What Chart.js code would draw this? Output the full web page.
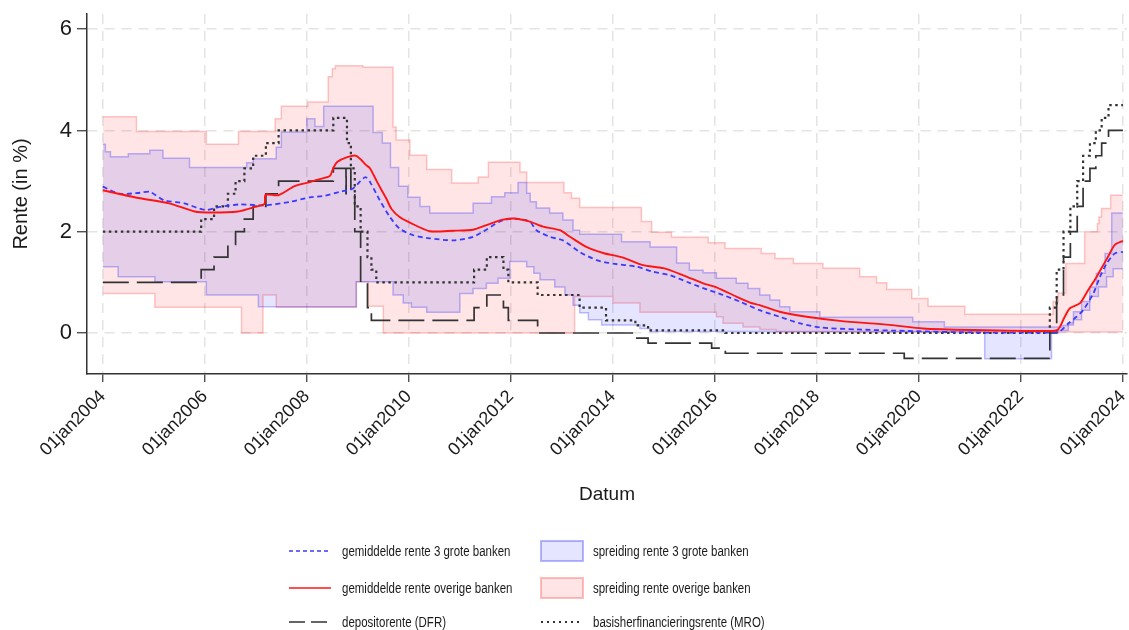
<!DOCTYPE html>
<html>
<head>
<meta charset="utf-8">
<script src="https://cdn.jsdelivr.net/npm/chart.js@4/dist/chart.umd.min.js"></script>
<style>
  body { margin: 0; background: #fff; }
  #wrap { position: relative; width: 1129px; height: 630px; }
  #chart-box { position: absolute; left: 0; top: 0; width: 1129px; height: 630px; }
  .legend-text { position: absolute; font-family: "Liberation Sans", Arial, sans-serif;
                 font-size: 14px; color: #1a1a1a; line-height: 22px; white-space: nowrap;
                 transform: scaleX(0.82); transform-origin: 0 50%; }
  .legend-sample { position: absolute; }
</style>
</head>
<body>
<div id="wrap">
  <div id="chart-box"><canvas id="rente-chart"></canvas></div>
  <div id="legend"></div>
</div>
<script>
// tick labels
const yearTicks = [2004, 2006, 2008, 2010, 2012, 2014, 2016, 2018, 2020, 2022, 2024];
const rateTicks = [0, 2, 4, 6];

// depositorente (DFR), change dates and new level
const dfrDates = ['2004-01-01', '2005-12-06', '2006-03-08', '2006-06-15', '2006-08-09', '2006-10-11', '2006-12-13',
  '2007-03-14', '2007-06-13', '2008-07-09', '2008-10-08', '2008-10-09', '2008-11-12', '2008-12-10', '2009-01-21',
  '2009-03-11', '2009-04-08', '2011-04-13', '2011-07-13', '2011-11-09', '2011-12-14', '2012-07-11', '2014-06-11',
  '2014-09-10', '2015-12-09', '2016-03-16', '2019-09-18', '2022-07-27', '2022-09-14', '2022-11-02', '2022-12-21',
  '2023-02-08', '2023-03-22', '2023-05-10', '2023-06-21', '2023-08-02', '2023-09-20', '2024-01-01'];
const dfrValues = [1.00, 1.25, 1.50, 1.75, 2.00, 2.25, 2.50,
  2.75, 3.00, 3.25, 2.75, 3.25, 2.75, 2.00, 1.00,
  0.50, 0.25, 0.50, 0.75, 0.50, 0.25, 0.00, -0.10,
  -0.20, -0.30, -0.40, -0.50, 0.00, 0.75, 1.50, 2.00,
  2.50, 3.00, 3.25, 3.50, 3.75, 4.00, 4.00];

// basisherfinancieringsrente (MRO)
const mroDates = ['2004-01-01', '2005-12-06', '2006-03-08', '2006-06-15', '2006-08-09', '2006-10-11', '2006-12-13',
  '2007-03-14', '2007-06-13', '2008-07-09', '2008-10-15', '2008-11-12', '2008-12-10', '2009-01-21', '2009-03-11',
  '2009-04-08', '2009-05-13', '2011-04-13', '2011-07-13', '2011-11-09', '2011-12-14', '2012-07-11', '2013-05-08',
  '2013-11-13', '2014-06-11', '2014-09-10', '2016-03-16', '2022-07-27', '2022-09-14', '2022-11-02', '2022-12-21',
  '2023-02-08', '2023-03-22', '2023-05-10', '2023-06-21', '2023-08-02', '2023-09-20', '2024-01-01'];
const mroValues = [2.00, 2.25, 2.50, 2.75, 3.00, 3.25, 3.50,
  3.75, 4.00, 4.25, 3.75, 3.25, 2.50, 2.00, 1.50,
  1.25, 1.00, 1.25, 1.50, 1.25, 1.00, 0.75, 0.50,
  0.25, 0.15, 0.05, 0.00, 0.50, 1.25, 2.00, 2.50,
  3.00, 3.50, 3.75, 4.00, 4.25, 4.50, 4.50];

// gemiddelde rente 3 grote banken (years as decimals)
const bigMeanYears = [2004.00, 2004.33, 2004.73, 2004.92, 2005.20, 2005.60, 2006.00, 2006.30, 2006.69, 2007.18,
  2007.67, 2008.06, 2008.35, 2008.65, 2008.90, 2009.05, 2009.15, 2009.24, 2009.43, 2009.63, 2009.82, 2010.09,
  2010.41, 2010.87, 2011.26, 2011.52, 2011.78, 2012.05, 2012.37, 2012.50, 2012.76, 2013.02, 2013.35, 2013.68,
  2014.00, 2014.46, 2014.79, 2015.12, 2015.50, 2015.84, 2016.16, 2016.49, 2016.88, 2017.27, 2017.67, 2018.06,
  2018.78, 2019.76, 2021.06, 2022.57, 2022.76, 2022.93, 2023.09, 2023.22, 2023.42, 2023.55, 2023.68, 2023.84, 2024.00];
const bigMeanValues = [2.89, 2.75, 2.77, 2.79, 2.62, 2.56, 2.43, 2.49, 2.54, 2.52,
  2.59, 2.68, 2.71, 2.79, 2.85, 3.00, 3.08, 2.98, 2.62, 2.29, 2.06, 1.93,
  1.87, 1.83, 1.90, 2.04, 2.20, 2.26, 2.20, 2.03, 1.90, 1.83, 1.60, 1.44,
  1.37, 1.31, 1.21, 1.14, 0.99, 0.86, 0.75, 0.62, 0.45, 0.32, 0.19, 0.11,
  0.07, 0.04, 0.01, 0.01, 0.03, 0.19, 0.32, 0.45, 0.78, 1.11, 1.37, 1.57, 1.60];

// gemiddelde rente overige banken
const otherMeanYears = [2004.00, 2004.35, 2004.73, 2005.30, 2005.80, 2006.13, 2006.65, 2006.98, 2007.17, 2007.19,
  2007.44, 2007.76, 2008.06, 2008.25, 2008.45, 2008.52, 2008.60, 2008.78, 2008.97, 2009.17, 2009.24, 2009.37,
  2009.45, 2009.56, 2009.66, 2009.82, 2010.02, 2010.41, 2010.87, 2011.26, 2011.52, 2011.80, 2012.05, 2012.37,
  2012.63, 2012.96, 2013.16, 2013.48, 2013.81, 2014.20, 2014.59, 2014.99, 2015.38, 2015.77, 2016.03, 2016.42,
  2016.69, 2016.88, 2017.27, 2017.80, 2018.45, 2019.43, 2020.08, 2021.06, 2022.57, 2022.73, 2022.86, 2022.96,
  2023.16, 2023.32, 2023.45, 2023.58, 2023.71, 2023.84, 2024.00];
const otherMeanValues = [2.82, 2.74, 2.66, 2.56, 2.40, 2.38, 2.40, 2.49, 2.55, 2.73,
  2.72, 2.90, 2.98, 3.04, 3.10, 3.26, 3.38, 3.47, 3.50, 3.31, 3.25, 3.00,
  2.85, 2.65, 2.45, 2.29, 2.18, 2.01, 2.02, 2.04, 2.13, 2.23, 2.26, 2.20,
  2.10, 2.03, 1.90, 1.70, 1.58, 1.49, 1.34, 1.28, 1.14, 0.98, 0.90, 0.72,
  0.60, 0.55, 0.42, 0.32, 0.24, 0.16, 0.09, 0.06, 0.04, 0.07, 0.32, 0.49,
  0.59, 0.85, 1.05, 1.28, 1.51, 1.74, 1.82];

// spreiding rente 3 grote banken: bovengrens en ondergrens (stappen)
const bigHighYears = [2004.00, 2004.05, 2004.15, 2004.50, 2004.92, 2005.18, 2005.70, 2006.82, 2006.95, 2007.40,
  2007.50, 2008.00, 2008.16, 2008.33, 2009.30, 2009.48, 2009.64, 2009.80, 2009.98, 2010.22, 2010.41, 2011.26,
  2011.62, 2011.88, 2012.14, 2012.31, 2012.38, 2012.50, 2012.76, 2013.02, 2013.22, 2013.35, 2014.17, 2014.73,
  2015.25, 2015.50, 2015.77, 2016.03, 2016.42, 2016.65, 2016.88, 2017.08, 2017.27, 2017.47, 2018.06, 2019.88,
  2020.50, 2022.60, 2022.80, 2022.93, 2023.03, 2023.19, 2023.35, 2023.48, 2023.65, 2023.78, 2024.00];
const bigHighValues = [3.73, 3.58, 3.48, 3.54, 3.61, 3.45, 3.27, 3.36, 3.44, 3.67,
  3.97, 4.23, 4.08, 4.48, 3.96, 3.75, 3.27, 2.90, 2.68, 2.50, 2.37, 2.56,
  2.69, 2.77, 2.97, 2.76, 2.59, 2.47, 2.37, 2.23, 2.03, 1.95, 1.80, 1.70,
  1.38, 1.24, 1.19, 1.08, 0.98, 0.88, 0.75, 0.65, 0.52, 0.42, 0.31, 0.22,
  0.12, 0.12, 0.15, 0.20, 0.42, 0.62, 0.91, 1.18, 1.57, 2.37, 2.37];
const bigLowYears = [2004.00, 2004.30, 2005.02, 2006.03, 2007.05, 2008.97, 2009.69, 2009.89, 2010.05, 2010.35,
  2011.00, 2011.26, 2011.52, 2011.75, 2011.98, 2012.31, 2012.45, 2012.57, 2012.86, 2013.06, 2013.22, 2013.35,
  2013.52, 2013.78, 2014.53, 2014.73, 2021.29, 2022.60, 2022.73, 2022.93, 2023.03, 2023.19, 2023.35, 2023.52,
  2023.68, 2023.81, 2024.00];
const bigLowValues = [1.31, 1.11, 1.01, 0.75, 0.52, 1.01, 0.75, 0.59, 0.51, 0.41,
  0.78, 0.88, 0.98, 1.08, 1.41, 1.31, 1.18, 1.05, 0.91, 0.75, 0.55, 0.40,
  0.26, 0.16, 0.09, 0.03, -0.51, 0.00, 0.05, 0.16, 0.26, 0.45, 0.72, 0.91,
  1.11, 1.27, 1.27];

// spreiding rente overige banken
const otherHighYears = [2004.00, 2004.66, 2006.03, 2006.66, 2007.38, 2007.50, 2008.02, 2008.42, 2008.50, 2008.56,
  2009.10, 2009.69, 2009.75, 2010.02, 2010.35, 2010.84, 2011.36, 2011.56, 2012.18, 2012.31, 2013.04, 2013.19,
  2013.35, 2014.56, 2014.76, 2015.15, 2015.87, 2016.20, 2016.91, 2017.18, 2017.54, 2018.12, 2018.84, 2019.17,
  2019.37, 2019.86, 2020.18, 2020.90, 2022.63, 2022.73, 2022.88, 2023.25, 2023.50, 2023.53, 2023.58, 2023.76, 2024.00];
const otherHighValues = [4.27, 3.98, 3.73, 3.98, 4.23, 4.48, 4.56, 5.06, 5.22, 5.28,
  5.25, 4.07, 3.81, 3.51, 3.23, 2.96, 3.08, 3.37, 3.18, 2.97, 2.77, 2.66,
  2.48, 2.20, 1.99, 1.89, 1.78, 1.67, 1.57, 1.47, 1.37, 1.28, 1.11, 0.99,
  0.86, 0.68, 0.53, 0.37, 0.62, 0.79, 1.37, 2.00, 2.16, 2.29, 2.46, 2.72, 2.72];
const otherLowYears = [2004.00, 2005.02, 2006.72, 2007.14, 2007.40, 2008.97, 2009.20, 2009.50, 2013.25, 2014.00,
  2014.53, 2016.03, 2016.16, 2016.55, 2016.88, 2017.20, 2024.00];
const otherLowValues = [0.78, 0.51, 0.00, 0.75, 0.51, 1.01, 0.53, 0.00, 0.72, 0.59,
  0.41, 0.32, 0.19, 0.12, 0.07, 0.02, 0.02];

function toYear(dateStr) {
    const d = new Date(dateStr + 'T00:00:00Z');
    const start = Date.UTC(d.getUTCFullYear(), 0, 1);
    const end = Date.UTC(d.getUTCFullYear() + 1, 0, 1);
    return d.getUTCFullYear() + (d.getTime() - start) / (end - start);
}

function toPoints(xs, ys) {
    return xs.map((x, i) => ({ x: x, y: ys[i] }));
}

const BLUE_LINE = '#3a3aff';
const RED_LINE = '#ff1414';
const DARK = '#333333';

const legendItems = [
    { label: 'gemiddelde rente 3 grote banken', kind: 'line', color: BLUE_LINE, dash: [4, 3], width: 1.6 },
    { label: 'spreiding rente 3 grote banken', kind: 'box', fill: 'rgba(0,0,255,0.10)', stroke: 'rgba(0,0,255,0.28)' },
    { label: 'gemiddelde rente overige banken', kind: 'line', color: RED_LINE, dash: [], width: 1.6 },
    { label: 'spreiding rente overige banken', kind: 'box', fill: 'rgba(255,0,0,0.10)', stroke: 'rgba(255,0,0,0.25)' },
    { label: 'depositorente (DFR)', kind: 'line', color: DARK, dash: [16, 6], width: 1.6 },
    { label: 'basisherfinancieringsrente (MRO)', kind: 'line', color: DARK, dash: [2, 4], width: 1.8 }
];

document.addEventListener('DOMContentLoaded', function () {
    createRenteChart();
    buildLegend();
});

function createRenteChart() {
    const ctx = document.getElementById('rente-chart').getContext('2d');
    const tickFont = { family: '"Liberation Sans", Arial, sans-serif' };

    new Chart(ctx, {
        type: 'line',
        data: {
            datasets: [
                {
                    label: 'gemiddelde rente 3 grote banken',
                    data: toPoints(bigMeanYears, bigMeanValues),
                    borderColor: BLUE_LINE, borderWidth: 1.8, borderDash: [5, 3.5],
                    pointRadius: 0, tension: 0.25, fill: false, order: 2
                },
                {
                    label: 'gemiddelde rente overige banken',
                    data: toPoints(otherMeanYears, otherMeanValues),
                    borderColor: RED_LINE, borderWidth: 1.9,
                    pointRadius: 0, tension: 0.25, fill: false, order: 1
                },
                {
                    label: 'depositorente (DFR)',
                    data: toPoints(dfrDates.map(toYear), dfrValues),
                    borderColor: DARK, borderWidth: 1.7, borderDash: [26, 8],
                    stepped: true, pointRadius: 0, fill: false, order: 3
                },
                {
                    label: 'basisherfinancieringsrente (MRO)',
                    data: toPoints(mroDates.map(toYear), mroValues),
                    borderColor: DARK, borderWidth: 2.2, borderDash: [2.5, 3.5],
                    stepped: true, pointRadius: 0, fill: false, order: 4
                },
                {
                    label: 'spreiding rente 3 grote banken',
                    data: toPoints(bigHighYears, bigHighValues),
                    borderColor: 'rgba(0,0,255,0.25)', borderWidth: 1.5,
                    backgroundColor: 'rgba(0,0,255,0.10)',
                    stepped: true, pointRadius: 0, fill: '+1', order: 10
                },
                {
                    label: 'ondergrens 3 grote banken',
                    data: toPoints(bigLowYears, bigLowValues),
                    borderColor: 'rgba(0,0,255,0.25)', borderWidth: 1.5,
                    stepped: true, pointRadius: 0, fill: false, order: 10
                },
                {
                    label: 'spreiding rente overige banken',
                    data: toPoints(otherHighYears, otherHighValues),
                    borderColor: 'rgba(255,0,0,0.22)', borderWidth: 1.5,
                    backgroundColor: 'rgba(255,0,0,0.10)',
                    stepped: true, pointRadius: 0, fill: '+1', order: 11
                },
                {
                    label: 'ondergrens overige banken',
                    data: toPoints(otherLowYears, otherLowValues),
                    borderColor: 'rgba(255,0,0,0.22)', borderWidth: 1.5,
                    stepped: true, pointRadius: 0, fill: false, order: 11
                }
            ]
        },
        options: {
            responsive: true,
            maintainAspectRatio: false,
            animation: false,
            layout: { padding: { left: 0, right: 2, top: 14, bottom: 120 } },
            plugins: {
                legend: { display: false },
                tooltip: { enabled: false }
            },
            scales: {
                x: {
                    type: 'linear',
                    min: 2003.69,
                    max: 2024.08,
                    afterBuildTicks: function (scale) {
                        scale.ticks = yearTicks.map(v => ({ value: v }));
                    },
                    afterFit: function (scale) {
                        scale.height = 136;
                        scale.paddingLeft = 0;
                        scale.paddingRight = 0;
                    },
                    ticks: {
                        minRotation: 45, maxRotation: 45, padding: 4,
                        color: '#1a1a1a',
                        font: Object.assign({ size: 18 }, tickFont),
                        callback: function (value) { return '01jan' + value; }
                    },
                    grid: {
                        color: '#e4e4e4', lineWidth: 1.5, tickLength: 8,
                        tickColor: DARK, tickWidth: 1.2, tickBorderDash: []
                    },
                    border: { display: true, color: DARK, width: 1.5, dash: [10, 7] },
                    title: {
                        display: true, text: 'Datum', color: '#1a1a1a',
                        font: Object.assign({ size: 19 }, tickFont),
                        padding: { top: 4, bottom: 4 }
                    }
                },
                y: {
                    min: -0.81,
                    max: 6.3,
                    afterBuildTicks: function (scale) {
                        scale.ticks = rateTicks.map(v => ({ value: v }));
                    },
                    afterFit: function (scale) {
                        scale.width = 87;
                        scale.paddingTop = 0;
                        scale.paddingBottom = 0;
                    },
                    ticks: {
                        padding: 5, color: '#1a1a1a',
                        font: Object.assign({ size: 22 }, tickFont)
                    },
                    grid: {
                        color: '#e4e4e4', lineWidth: 1.5, tickLength: 10,
                        tickColor: DARK, tickWidth: 1.2, tickBorderDash: []
                    },
                    border: { display: true, color: DARK, width: 1.5, dash: [10, 7] },
                    title: {
                        display: true, text: 'Rente (in %)', color: '#1a1a1a',
                        font: Object.assign({ size: 20 }, tickFont),
                        padding: { top: 9, bottom: 0 }
                    }
                }
            }
        }
    });
}

function buildLegend() {
    const legend = document.getElementById('legend');
    const rowCenters = [551, 588, 622];
    const sampleLeft = [288, 540];
    const textLeft = [342, 593];

    legendItems.forEach(function (item, i) {
        const row = Math.floor(i / 2);
        const col = i % 2;

        const sample = document.createElement('canvas');
        sample.width = 44;
        sample.height = 24;
        sample.className = 'legend-sample';
        sample.style.left = sampleLeft[col] + 'px';
        sample.style.top = (rowCenters[row] - 12) + 'px';
        const c = sample.getContext('2d');
        if (item.kind === 'box') {
            c.fillStyle = item.fill;
            c.fillRect(1, 2, 42, 20);
            c.strokeStyle = item.stroke;
            c.lineWidth = 2;
            c.strokeRect(1, 2, 42, 20);
        } else {
            c.strokeStyle = item.color;
            c.lineWidth = item.width;
            c.setLineDash(item.dash);
            c.beginPath();
            c.moveTo(1, 12);
            c.lineTo(43, 12);
            c.stroke();
        }

        const text = document.createElement('span');
        text.className = 'legend-text';
        text.textContent = item.label;
        text.style.left = textLeft[col] + 'px';
        text.style.top = (rowCenters[row] - 11) + 'px';

        legend.appendChild(sample);
        legend.appendChild(text);
    });
}
</script>
</body>
</html>
